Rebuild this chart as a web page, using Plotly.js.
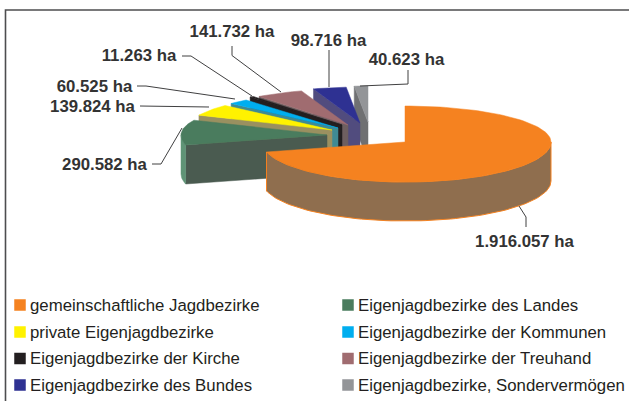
<!DOCTYPE html>
<html>
<head>
<meta charset="utf-8">
<script src="https://cdn.plot.ly/plotly-3.0.1.min.js"></script>
<style>html,body{margin:0;padding:0;background:#fff}#c{width:629px;height:401px}</style>
</head>
<body>
<div id="c"></div>
<script>
// Data
const categories = ["gemeinschaftliche Jagdbezirke","Eigenjagdbezirke des Landes","private Eigenjagdbezirke","Eigenjagdbezirke der Kommunen","Eigenjagdbezirke der Kirche","Eigenjagdbezirke der Treuhand","Eigenjagdbezirke des Bundes","Eigenjagdbezirke, Sondervermögen"];
const hectares = [1916057,290582,139824,60525,11263,141732,98716,40623];
const valueLabels = ["1.916.057 ha","290.582 ha","139.824 ha","60.525 ha","11.263 ha","141.732 ha","98.716 ha","40.623 ha"];
// Styles
const topColors = ["#f58220","#4a7c5e","#fff200","#00aeef","#231f20","#a06c70","#2e3192","#939598"];
const faceColors = ["#8f6e4e","#4a5b50","#9a9060","#3f8a94","#231f20","#6e5f60","#514c7e","#6f7072"];
const rimColors = ["#8f6e4e","#5f9476","#9a9060","#3f8a94","#231f20","#6e5f60","#514c7e","#6f7072"];
// Slice explosion (apex offset from the pie centre)
const explodeX = [0,-78,-73,-67,-63,-57,-45,-37];
const explodeY = [0,-7,-12,-14,-17,-17,-19,-20];
// Label anchor (centre x, centre y)
const labelX = [524.5,104.5,92.5,94.5,139,232,328.5,406.5];
const labelY = [243,166,108,88,57,33,42,61];
const legendRowY = [305,332,358.5,385];
const legendColX = [20,348];
// Geometry of the projected pie
const cx=405, cy=142, rx=146, rxMainLeft=143, ryBack=36, ryFront=40, depth=39;

const total = hectares.reduce((a,b)=>a+b,0);
const pt = (deg,ox,oy,dy=0,rl=rx) => {
  const r = deg*Math.PI/180, c = Math.cos(r), s = Math.sin(r);
  return [cx+ox+(s<0?rl:rx)*s, cy+oy-(c>=0?ryBack:ryFront)*c+dy];
};
function arc(a0,a1,ox,oy,dy=0,rl=rx){
  const n = Math.max(2,Math.ceil(Math.abs(a1-a0)/2)), out=[];
  for(let i=0;i<=n;i++) out.push(pt(a0+(a1-a0)*i/n,ox,oy,dy,rl));
  return out;
}
function poly(points,color,line,name){
  const closed = points.concat([points[0]]);
  return {type:'scatter',mode:'lines',x:closed.map(p=>p[0]),y:closed.map(p=>p[1]),fill:'toself',fillcolor:color,
    line:{color:line||color,width:line?1:0.5},hoverinfo:'skip',showlegend:false,name:name||''};
}
let start=0; const starts=[],ends=[];
hectares.forEach(v=>{starts.push(start);start+=v/total*360;ends.push(start);});

const traces=[];
// back to front: last slice first, main slice last
for(let i=hectares.length-1;i>=0;i--){
  const ox=explodeX[i], oy=explodeY[i], a0=starts[i], a1=ends[i], rl=i===0?rxMainLeft:rx;
  const apex=[cx+ox,cy+oy];
  if(i>0){
    const p=pt(a0,ox,oy);
    traces.push(poly([apex,p,[p[0],p[1]+depth],[apex[0],apex[1]+depth]],faceColors[i]));
  }
  const rimA0=Math.max(a0,90), rimA1=Math.min(a1,270);
  if(rimA1>rimA0){
    const t=arc(rimA0,rimA1,ox,oy,0,rl), b=arc(rimA1,rimA0,ox,oy,depth,rl);
    traces.push(poly(t.concat(b),rimColors[i],i===0?'#f58220':null));
  }
  traces.push(poly([apex].concat(arc(a0,a1,ox,oy,0,rl)),topColors[i],null,categories[i]));
}
// Value labels
traces.push({type:'scatter',mode:'text',x:labelX,y:labelY,text:valueLabels,textposition:'middle center',
  textfont:{family:'"Liberation Sans",Arial,sans-serif',size:16.8,color:'#333333',weight:700},hoverinfo:'skip',showlegend:false});
// Legend swatches + text
const legX=[],legY=[];
categories.forEach((c,i)=>{legX.push(legendColX[i%2]);legY.push(legendRowY[Math.floor(i/2)]);});
traces.push({type:'scatter',mode:'markers',x:legX,y:legY,marker:{symbol:'square',size:11.5,color:topColors,line:{width:0}},hoverinfo:'skip',showlegend:false});
const annotations=categories.map((c,i)=>({x:legX[i]+(i%2?9.5:10),y:legY[i],xref:'x',yref:'y',text:c,showarrow:false,xanchor:'left',yanchor:'middle',
  font:{family:'"Liberation Sans",Arial,sans-serif',size:16.8,color:'#231f20'},borderpad:0,borderwidth:0}));

const leaders=[
 "M232,46 L232,55.5 L281,92",
 "M329,50 L329,87",
 "M360,86 L408,84 L408,70",
 "M182,56 L191,56 L252,96",
 "M137,86 L146,86 L235,99",
 "M140,106 L209,107",
 "M152,164 L161,164 L182,128",
 "M519,206 L526,217 L526,227"
];
const shapes=leaders.map(p=>({type:'path',path:p,xref:'x',yref:'y',line:{color:'#404041',width:1}}));
shapes.unshift({type:'path',path:'M5.5,401 L5.5,10 L629,10',xref:'x',yref:'y',line:{color:'#4d4d4f',width:1.6}});

Plotly.newPlot('c',traces,{
  width:629,height:401,margin:{l:0,r:0,t:0,b:0},
  paper_bgcolor:'#fff',plot_bgcolor:'#fff',showlegend:false,
  xaxis:{range:[0,629],visible:false,fixedrange:true},
  yaxis:{range:[401,0],visible:false,fixedrange:true},
  shapes,annotations
},{displayModeBar:false,staticPlot:true});
</script>
</body>
</html>
